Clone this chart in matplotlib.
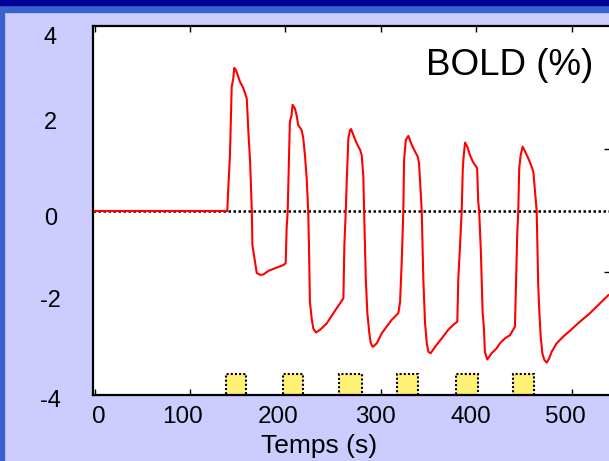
import matplotlib
matplotlib.use('Agg')
import matplotlib.pyplot as plt
from matplotlib.patches import Rectangle
import matplotlib.transforms as mtransforms

plt.rcParams['font.family'] = ['Liberation Sans', 'DejaVu Sans']

# ---- data (time in s, BOLD signal in %) ----
t = [0, 139.1, 140.1, 141.9, 143.7, 145.4, 146.4, 148.2, 152.4, 155.9, 159.5, 161.2, 163.0, 164.8,
     165.4, 168.2, 170.0, 173.5, 177.0, 182.2, 189.3, 198.0, 200.3,
     201.3, 202.4, 203.9, 204.7, 206.5, 207.5, 209.9, 211.7, 213.4, 217.0, 218.7, 220.5, 222.3, 223.9,
     224.7, 225.7, 227.5, 229.2, 232.0, 236.3, 243.3, 250.3, 257.3, 260.8,
     261.8, 263.3, 264.4, 266.0, 267.8, 268.9, 271.2, 274.8, 278.3, 280.0, 281.7, 282.5,
     284.3, 285.9, 288.0, 289.5, 291.6, 295.8, 300.9, 306.2, 311.4, 318.4, 320.2, 322.0,
     323.6, 324.4, 326.2, 328.9, 332.4, 335.9, 338.7, 340.1, 341.1, 342.9,
     344.6, 346.4, 348.2, 349.9, 352.3, 356.8, 363.9, 370.7, 376.0, 380.2, 381.2, 383.0,
     384.8, 385.9, 386.5, 388.3, 390.7, 393.5, 396.4, 398.8, 401.0, 402.1, 403.1,
     404.9, 406.7, 408.1, 409.1, 411.6, 416.2, 421.5, 424.9, 430.2, 435.4, 440.6, 441.7, 443.0,
     444.1, 445.1, 446.6, 448.7, 452.2, 455.4, 458.2, 459.9, 462.6, 463.4,
     465.0, 466.1, 467.6, 469.3, 471.4, 473.9, 476.6, 479.1, 484.3, 491.3, 498.3, 508.7, 519.3, 529.8, 538.5]
bold = [0, 0.00, 0.50, 1.24, 2.76, 2.95, 3.18, 3.13, 2.87, 2.73, 2.50, 1.76, 1.10, 0.00,
        -0.76, -1.13, -1.38, -1.42, -1.41, -1.33, -1.27, -1.20, -1.16,
        -0.38, 0.00, 1.24, 1.98, 2.13, 2.36, 2.28, 2.13, 1.91, 1.80, 1.62, 1.24, 0.73, 0.00,
        -0.76, -2.02, -2.38, -2.61, -2.70, -2.64, -2.50, -2.27, -2.05, -1.94,
        -0.76, 0.00, 0.73, 1.62, 1.80, 1.82, 1.69, 1.50, 1.36, 1.24, 0.76, 0.00,
        -1.53, -2.27, -2.72, -2.94, -3.02, -2.94, -2.72, -2.57, -2.42, -2.27, -2.02, -1.09,
        0.00, 1.13, 1.58, 1.67, 1.47, 1.32, 1.21, 1.06, 0.69, 0.00,
        -1.53, -2.50, -2.94, -3.13, -3.16, -3.02, -2.83, -2.64, -2.53, -2.46, -1.53, -0.79,
        0.00, 0.91, 1.13, 1.52, 1.43, 1.24, 1.10, 1.02, 0.95, 0.21, 0.00,
        -0.90, -2.24, -2.61, -3.13, -3.30, -3.16, -3.05, -2.94, -2.83, -2.76, -2.57, -1.64, -0.53,
        0.00, 0.95, 1.24, 1.43, 1.28, 1.13, 0.98, 0.87, 0.21, 0.00,
        -1.64, -2.20, -2.79, -3.16, -3.31, -3.37, -3.27, -3.13, -2.94, -2.79, -2.66, -2.46, -2.27, -2.05, -1.87]

stim_start = [137.4, 197.8, 256.5, 317.3, 378.5, 438.9]
stim_width = [21.0, 21.0, 24.1, 22.0, 23.7, 22.0]
stim_top = -3.63

xticks = [0, 100, 200, 300, 400, 500]
xticklabels = ['0', '100', '200', '300', '400', '500']
yticks = [-4, -2, 0, 2, 4]
yticklabels = ['-4', '-2', '0', '2', '4']
y2ticks = [-1, 1]

title = 'BOLD (%)'
xlabel = 'Temps (s)'

# ---- figure ----
W, H = 609, 461
fig = plt.figure(figsize=(W / 100, H / 100), dpi=100)
fig.patch.set_facecolor('#ccccff')

# slide decorations
fig.add_artist(Rectangle((0, 0), 4 / W, 1, transform=fig.transFigure, color='#3a62cf', zorder=0))
fig.add_artist(Rectangle((0, 1 - 12 / H), 1, 7 / H, transform=fig.transFigure, color='#3a62cf', zorder=0))
fig.add_artist(Rectangle((0, 1 - 5 / H), 1, 5 / H, transform=fig.transFigure, color='#000099', zorder=0))

left_px, right_px, top_px, bot_px = 93.3, 611.0, 26.0, 395.0
ax = fig.add_axes([left_px / W, (H - bot_px) / H, (right_px - left_px) / W, (bot_px - top_px) / H])
ax.set_facecolor('white')

x0_px, xscale = 94.6, 0.954
ax.set_xlim((left_px - x0_px) / xscale, (right_px - x0_px) / xscale)
ax.set_ylim(-4.089, 4.111)

for sp in ax.spines.values():
    sp.set_linestyle((0, (1, 1)))
    sp.set_linewidth(1.6)
    sp.set_color('black')

ax.axhline(0, color='black', lw=1.8, ls=(0, (1, 1)), zorder=1)

ax.bar(stim_start, [stim_top - (-4.089)] * len(stim_start), width=stim_width,
       bottom=-4.089, align='edge', color='#fff176', edgecolor='black',
       linewidth=1.5, linestyle=(0, (1, 1)), zorder=2, clip_on=False)

ax.plot(t, bold, color='#ff0000', lw=1.5, zorder=3)

ax.text(435.4, 3.24, title, fontsize=26.5, ha='center', va='center')

ax.set_xticks(xticks)
ax.set_xticklabels(xticklabels, fontsize=17.5)
ax.set_yticks(yticks)
ax.set_yticklabels(yticklabels, fontsize=17, ha='center')
ax.tick_params(axis='x', direction='in', length=4, width=1, top=True, pad=8)
ax.tick_params(axis='y', direction='in', length=0, width=1, pad=31)

x_off = [4.4, -7, -7.4, -5.8, -5.2, -6.6]
for lab, dx in zip(ax.get_xticklabels(), x_off):
    lab.set_transform(lab.get_transform() + mtransforms.ScaledTranslation(dx / 100, 0, fig.dpi_scale_trans))

y_off = [-8, 2, -6, 0, -5]   # pixel shifts (negative = down)
for lab, dy in zip(ax.get_yticklabels(), y_off):
    lab.set_transform(lab.get_transform() + mtransforms.ScaledTranslation(0, dy / 100, fig.dpi_scale_trans))

ax2 = ax.twinx()
ax2.set_ylim(-3, 3)
ax2.set_yticks(y2ticks)
ax2.set_yticklabels([])
ax2.tick_params(axis='y', direction='in', length=5, width=1)
for sp in ax2.spines.values():
    sp.set_visible(False)

fig.text(319 / W, 1 - 446 / H, xlabel, fontsize=19, ha='center', va='center')

fig.savefig('out.png', dpi=100, facecolor=fig.get_facecolor())
